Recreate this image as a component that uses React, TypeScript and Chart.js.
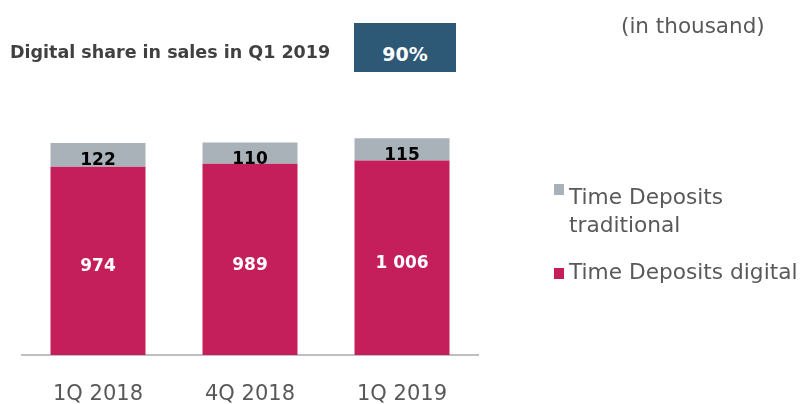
import React, { useEffect, useRef } from "react";
import { Chart, registerables } from "chart.js";

Chart.register(...registerables);

const categories = ["1Q 2018", "4Q 2018", "1Q 2019"];
const digitalValues = [974, 989, 1006];
const traditionalValues = [122, 110, 115];
const seriesLabels = ["Time Deposits digital", "Time Deposits traditional"];
const titleText = "Digital share in sales in Q1 2019";
const shareText = "90%";
const unitText = "(in thousand)";

const RED = "#C51F5B";
const GREY = "#A9B1B9";
const FONT = "'DejaVu Sans', sans-serif";

const fmt = (v: number) => String(v).replace(/\B(?=(\d{3})+(?!\d))/g, " ");

const valueLabels = {
  id: "valueLabels",
  afterDatasetsDraw(chart: any) {
    const ctx = chart.ctx;
    ctx.save();
    ctx.textAlign = "center";
    ctx.textBaseline = "middle";
    ctx.font = `bold 17px ${FONT}`;
    chart.data.datasets.forEach((ds: any, di: number) => {
      const meta = chart.getDatasetMeta(di);
      meta.data.forEach((bar: any, i: number) => {
        const y = (bar.y + bar.base) / 2 + 6;
        ctx.fillStyle = di === 0 ? "#FFFFFF" : "#000000";
        ctx.fillText(fmt(ds.data[i]), bar.x, y);
      });
    });
    ctx.restore();
  },
};

export default function App() {
  const ref = useRef<HTMLCanvasElement>(null);
  useEffect(() => {
    if (!ref.current) return;
    const chart = new Chart(ref.current, {
      type: "bar",
      data: {
        labels: categories,
        datasets: [
          { label: seriesLabels[0], data: digitalValues, backgroundColor: RED },
          { label: seriesLabels[1], data: traditionalValues, backgroundColor: GREY },
        ],
      },
      options: {
        responsive: false,
        animation: false,
        events: [],
        layout: { padding: { left: 22, right: 326, top: 123, bottom: 0 } },
        datasets: { bar: { barPercentage: 0.625, categoryPercentage: 1 } },
        plugins: { legend: { display: false }, tooltip: { enabled: false } },
        scales: {
          x: {
            stacked: true,
            grid: { display: false, drawTicks: false },
            border: { display: true, color: "#BFBFBF", width: 2 },
            ticks: { color: "#595959", font: { family: FONT, size: 21 }, padding: 27 },
            afterFit: (s: any) => { s.height = 49; },
          },
          y: { stacked: true, display: false, min: 0, max: 1200 },
        },
      },
      plugins: [valueLabels],
    });
    return () => chart.destroy();
  }, []);

  const text = (extra: React.CSSProperties): React.CSSProperties => ({
    position: "absolute",
    fontFamily: FONT,
    whiteSpace: "nowrap",
    ...extra,
  });

  return (
    <div style={{ position: "absolute", left: 0, top: 0, width: 804, height: 404, background: "#fff" }}>
      <canvas ref={ref} width={804} height={404} style={{ position: "absolute", left: 0, top: 0 }} />
      <div style={text({ left: 10, top: 44, fontSize: 17.5, lineHeight: "17.5px", fontWeight: "bold", color: "#404040" })}>
        {titleText}
      </div>
      <div style={{ position: "absolute", left: 354, top: 23, width: 102, height: 49, background: "#2D5876" }} />
      <div style={text({ left: 354, width: 102, textAlign: "center", top: 45, fontSize: 19, lineHeight: "19px", fontWeight: "bold", color: "#fff" })}>
        {shareText}
      </div>
      <div style={text({ left: 621, top: 15, fontSize: 21.5, lineHeight: "21.5px", color: "#595959" })}>{unitText}</div>
      <div style={{ position: "absolute", left: 554, top: 184, width: 10, height: 11, background: GREY }} />
      <div style={text({ left: 569, top: 183, fontSize: 21.7, lineHeight: "28px", color: "#595959" })}>
        Time Deposits
        <br />
        traditional
      </div>
      <div style={{ position: "absolute", left: 554, top: 268, width: 10, height: 11, background: RED }} />
      <div style={text({ left: 569, top: 258, fontSize: 21.7, lineHeight: "28px", color: "#595959" })}>
        {seriesLabels[0]}
      </div>
    </div>
  );
}
